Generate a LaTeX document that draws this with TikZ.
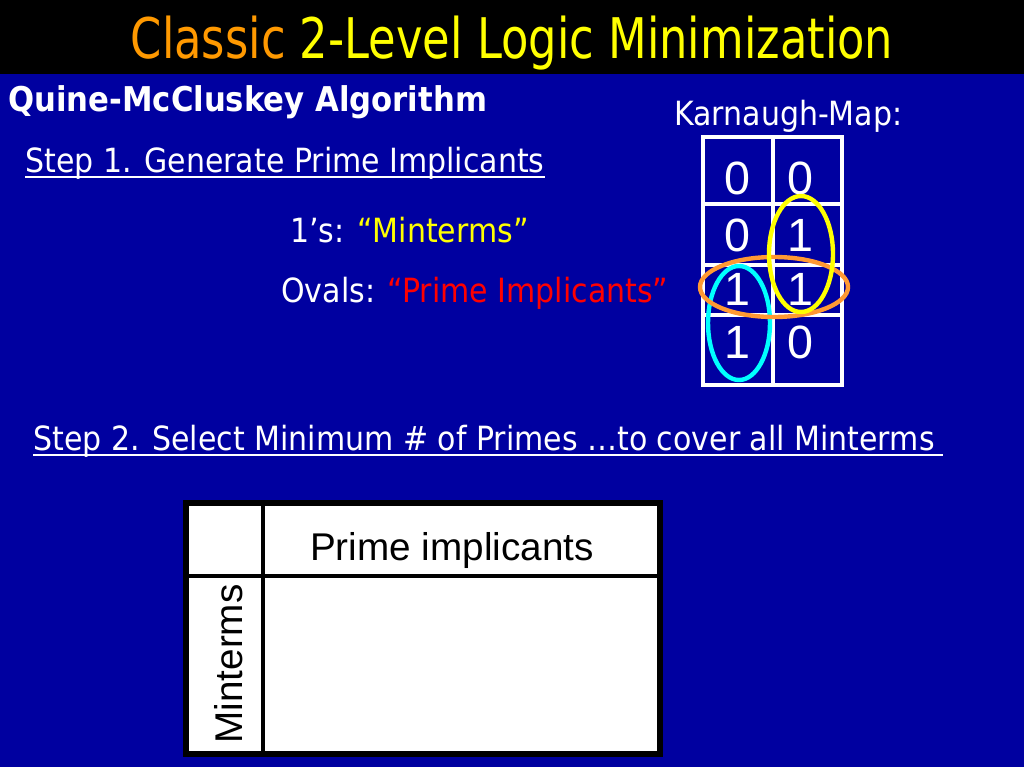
\documentclass[tikz,border=0pt]{standalone}
\usepackage{fontspec}
\setmainfont{DejaVu Sans}[FakeStretch=0.9]
\newfontfamily\titlefont{DejaVu Sans}[FakeStretch=0.8]
\newfontfamily\tablefont{Liberation Sans}
\usetikzlibrary{positioning}
\definecolor{slideblue}{RGB}{0,0,160}
\definecolor{titleorange}{HTML}{FF9900}
\definecolor{ovalorange}{HTML}{FF9933}
\definecolor{ovalcyan}{HTML}{00FFFF}
\definecolor{hlyellow}{HTML}{FFFF00}
\definecolor{hlred}{HTML}{FF0000}

\begin{document}
\begin{tikzpicture}[
  x=0.75pt, y=-0.75pt,
  bodytext/.style={anchor=base west, inner sep=0pt, text=white,
    font=\fontsize{25}{30}\selectfont},
  uline/.style={white, line width=1.5pt},
  kmline/.style={white, line width=2.5pt},
  kmdigit/.style={text=white, inner sep=0pt,
    font=\tablefont\fontsize{35}{38}\selectfont},
  oval/.style={line width=3.3pt},
  tabline/.style={black, line width=3pt},
  tabtext/.style={text=black, inner sep=0pt,
    font=\tablefont\fontsize{29}{32}\selectfont},
]
  % background and title bar
  \fill[slideblue] (0,0) rectangle (1024,767);
  \fill[black] (0,0) rectangle (1024,74);
  \node[anchor=base, inner sep=0pt] (title) at (512,59)
    {\titlefont\fontsize{42}{46}\selectfont
     \textcolor{titleorange}{Classic} \textcolor{hlyellow}{2-Level Logic Minimization}};

  % step 1
  \node[bodytext, font=\bfseries\fontsize{25.6}{30}\selectfont] (qm) at (8,112)
    {Quine-McCluskey Algorithm};
  \node[bodytext] (step1) at (25,172) {Step 1. Generate Prime Implicants};
  \draw[uline] ([yshift=-4pt]step1.base west) -- ([yshift=-4pt]step1.base east);
  \node[bodytext] (ones) at (290,242)
    {1’s: \textcolor{hlyellow}{“Minterms”}};
  \node[bodytext] (ovals) at (281,302)
    {Ovals: \textcolor{hlred}{“Prime Implicants”}};
  \node[bodytext] (kmtitle) at (674,125) {Karnaugh-Map:};

  % karnaugh map
  \draw[kmline] (703,137) rectangle (842,385);
  \draw[kmline] (773,137) -- (773,385);
  \foreach \y in {204,265,315}
    \draw[kmline] (703,\y) -- (842,\y);
  \foreach \x/\y/\v [count=\i] in {737/178/0, 800/178/0, 737/235/0, 800/235/1,
      737/289/1, 800/289/1, 737/342/1, 800/342/0}
    \node[kmdigit] (km\i) at (\x,\y) {\v};
  \draw[oval, ovalcyan] (739,323) ellipse [x radius=31, y radius=57];
  \draw[oval, ovalorange] (774,287) ellipse [x radius=74, y radius=30];
  \draw[oval, hlyellow] (801,254) ellipse [x radius=32, y radius=58];

  % step 2
  \node[bodytext] (step2) at (33,450)
    {Step 2. Select Minimum \# of Primes …to cover all Minterms};
  \draw[uline] ([yshift=-4pt]step2.base west) -- ([yshift=-4pt,xshift=6pt]step2.base east);

  % covering table
  \draw[black, line width=4.5pt, fill=white] (186,503) rectangle (660,754);
  \draw[tabline] (263,503) -- (263,754);
  \draw[tabline] (186,576) -- (660,576);
  \node[tabtext, anchor=base] (primes) at (452,560) {Prime implicants};
  \node[tabtext, rotate=90, anchor=base] (mins) at (242,664) {Minterms};
\end{tikzpicture}
\end{document}
